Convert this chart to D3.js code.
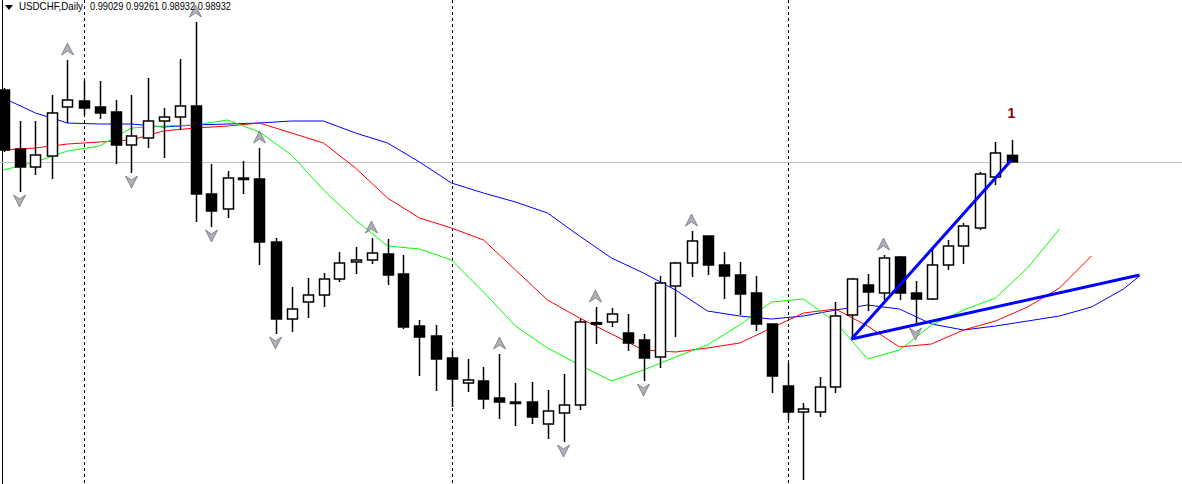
<!DOCTYPE html>
<html><head><meta charset="utf-8">
<script src="https://cdn.jsdelivr.net/npm/d3@7"></script>
<style>body{margin:0;background:#fff;overflow:hidden}svg{display:block}</style>
</head><body><svg id="c" width="1182" height="484"></svg>
<script>
const symbol = "USDCHF,Daily";
const headerValues = ["0.99029","0.99261","0.98932","0.98932"];
// OHLC per daily candle
const opens  = [1.00010,0.99125,0.98855,0.99020,0.99755,0.99845,0.99755,0.99680,0.99185,0.99290,0.99545,0.99605,0.99770,0.98450,0.98225,0.98675,0.98675,0.97730,0.96575,0.96830,0.96935,0.97175,0.97430,0.97460,0.97550,0.97250,0.96470,0.96320,0.95990,0.95615,0.95645,0.95390,0.95330,0.95330,0.95000,0.95165,0.95285,0.96515,0.96530,0.96365,0.96260,0.96005,0.97070,0.97415,0.97820,0.97385,0.97235,0.96965,0.96500,0.95570,0.95180,0.95180,0.95555,0.96635,0.97085,0.96965,0.97505,0.96965,0.96875,0.97385,0.97670,0.97940,0.98705,0.99029];
const highs  = [1.00040,0.99545,0.99545,0.99935,1.00460,1.00145,1.00145,0.99860,0.99935,1.00190,0.99740,1.00475,1.01030,0.98900,0.98795,0.98945,0.99140,0.97790,0.97055,0.97190,0.97265,0.97580,0.97655,0.97790,0.97775,0.97535,0.96560,0.96485,0.96095,0.95975,0.95855,0.96050,0.95615,0.95630,0.95510,0.95750,0.96575,0.96755,0.96740,0.96650,0.96350,0.97220,0.97430,0.97895,0.97820,0.97580,0.97430,0.97220,0.96500,0.95915,0.95315,0.95705,0.96830,0.97190,0.97250,0.97535,0.97520,0.97145,0.97655,0.97760,0.98015,0.98780,0.99230,0.99261];
const lows   = [0.99080,0.98480,0.98735,0.98675,0.99515,0.99635,0.99575,0.98900,0.98765,0.99140,0.98990,0.99410,0.98030,0.97955,0.98090,0.98450,0.97385,0.96350,0.96380,0.96590,0.96755,0.97130,0.97250,0.97400,0.97085,0.96425,0.95720,0.95495,0.95255,0.95480,0.95225,0.95075,0.94970,0.95000,0.94775,0.94730,0.95210,0.96200,0.96455,0.96095,0.95645,0.95840,0.96305,0.97205,0.97235,0.96875,0.96635,0.96395,0.95465,0.95060,0.94160,0.95105,0.95465,0.96275,0.96695,0.96860,0.96860,0.96485,0.96860,0.97310,0.97400,0.97910,0.98585,0.98932];
const closes = [0.99110,0.98855,0.99035,0.99665,0.99860,0.99740,0.99665,0.99185,0.99320,0.99545,0.99605,0.99770,0.98450,0.98195,0.98690,0.98690,0.97730,0.96575,0.96725,0.96935,0.97175,0.97415,0.97460,0.97565,0.97235,0.96455,0.96305,0.95975,0.95675,0.95660,0.95375,0.95330,0.95315,0.95105,0.95195,0.95285,0.96530,0.96520,0.96650,0.96215,0.95990,0.97115,0.97415,0.97745,0.97385,0.97220,0.96950,0.96500,0.95720,0.95180,0.95225,0.95555,0.96620,0.97175,0.96980,0.97490,0.96965,0.96875,0.97385,0.97670,0.97970,0.98750,0.99065,0.98932];
// Alligator lines, sampled at bar indices (forward-shifted beyond last bar)
const jawIdx  = [0,2,4,6,8,10,12,14,16,18,20,22,24,26,28,30,32,34,36,38,40,42,44,46,48,50,52,54,56,58,60,62,64,66,68,70,71];
const jawVal  = [0.99890,0.99665,0.99515,0.99500,0.99500,0.99455,0.99485,0.99500,0.99515,0.99545,0.99545,0.99365,0.99215,0.98930,0.98615,0.98465,0.98330,0.98165,0.97820,0.97490,0.97265,0.97010,0.96695,0.96620,0.96575,0.96620,0.96710,0.96785,0.96725,0.96500,0.96410,0.96470,0.96545,0.96620,0.96755,0.97025,0.97220];
const teethIdx = [0,2,4,6,8,10,12,14,16,18,20,22,24,26,28,30,32,34,36,38,40,42,44,46,48,50,52,54,56,58,60,62,64,66,68];
const teethVal = [0.99110,0.99140,0.99200,0.99230,0.99260,0.99395,0.99440,0.99470,0.99515,0.99365,0.99215,0.98840,0.98390,0.98090,0.97940,0.97760,0.97310,0.96860,0.96590,0.96350,0.96110,0.96080,0.96140,0.96215,0.96440,0.96665,0.96725,0.96470,0.96155,0.96200,0.96410,0.96545,0.96755,0.97040,0.97520];
const lipsIdx = [0,2,4,6,8,10,12,14,16,18,20,22,24,26,28,30,32,34,36,38,40,42,44,46,48,50,52,54,56,58,60,62,64,66];
const lipsVal = [0.98810,0.98930,0.99095,0.99170,0.99440,0.99470,0.99485,0.99560,0.99380,0.99035,0.98510,0.98060,0.97670,0.97625,0.97460,0.96980,0.96470,0.96140,0.95885,0.95645,0.95810,0.96005,0.96185,0.96485,0.96830,0.96875,0.96530,0.95975,0.96110,0.96485,0.96710,0.96890,0.97340,0.97925];
const fractalUp = [4,12,16,23,31,37,43,55];
const fractalDown = [1,8,13,17,35,40,57];
const separators = [5,28,49];
const trendStart = [53,0.96275];
const trendEnds = [[63,0.98960],[71,0.97235]];
const waveLabel = {idx:63, text:"1", price:0.99590};
const bidPrice = 0.98932;

const svg = d3.select("#c");
const W=1182,H=484;
const x = d3.scaleLinear().domain([0,63]).range([3.5,1011.5]);
const y = d3.scaleLinear().domain([0.9410,1.0136]).range([484,0]);
const g = svg.append("g");

g.append("line").attr("x1",2.5).attr("x2",2.5).attr("y1",0).attr("y2",H).attr("stroke","#000");
separators.forEach(s=>g.append("line").attr("x1",Math.round(x(s))+0.5).attr("x2",Math.round(x(s))+0.5)
  .attr("y1",0).attr("y2",H).attr("stroke","#000").attr("stroke-dasharray","3,3"));
g.append("line").attr("x1",0).attr("x2",W).attr("y1",Math.round(y(bidPrice))+0.5).attr("y2",Math.round(y(bidPrice))+0.5)
  .attr("stroke","#c0c0c0");

const line = d3.line().x(d=>x(d[0])).y(d=>y(d[1]));
[[jawIdx,jawVal,"#0000ff"],[teethIdx,teethVal,"#ff0000"],[lipsIdx,lipsVal,"#00ff00"]].forEach(([ix,v,c])=>{
  g.append("path").attr("d",line(ix.map((d,i)=>[d,v[i]]))).attr("fill","none").attr("stroke",c).attr("stroke-width",1);
});

const bars = opens.map((o,i)=>({i,o,h:highs[i],l:lows[i],c:closes[i]}));
const cg = g.append("g");
bars.forEach(b=>{
  const cx=Math.round(x(b.i))+0.5;
  cg.append("line").attr("x1",cx).attr("x2",cx).attr("y1",y(b.h)).attr("y2",y(b.l)).attr("stroke","#000").attr("stroke-width",1.5);
  const top=Math.min(y(b.o),y(b.c)), bot=Math.max(y(b.o),y(b.c));
  const bull=b.c>b.o;
  cg.append("rect").attr("x",cx-5).attr("width",10).attr("y",top).attr("height",Math.max(bot-top,1.5))
    .attr("fill",bull?"#fff":"#000").attr("stroke","#000").attr("stroke-width",1.5);
});

trendEnds.forEach(e=>g.append("line").attr("x1",x(trendStart[0])).attr("y1",y(trendStart[1]))
  .attr("x2",x(e[0])).attr("y2",y(e[1])).attr("stroke","#0000ff").attr("stroke-width",3));

const arrow = "M0,-6 L6,6 L0,2 L-6,6 Z";
fractalUp.forEach(i=>g.append("path").attr("d",arrow).attr("transform",`translate(${x(i)},${y(highs[i])-11})`)
  .attr("fill","#b0b0b8").attr("stroke","#707078").attr("stroke-width",0.8));
fractalDown.forEach(i=>g.append("path").attr("d",arrow).attr("transform",`translate(${x(i)},${y(lows[i])+9}) rotate(180)`)
  .attr("fill","#b0b0b8").attr("stroke","#707078").attr("stroke-width",0.8));

g.append("text").attr("x",x(waveLabel.idx)).attr("y",y(waveLabel.price)).attr("text-anchor","middle")
  .attr("font-family","Liberation Sans, Arial").attr("font-weight","bold").attr("font-size",14).attr("fill","#8b0000").text(waveLabel.text);

g.append("path").attr("d","M5,5 L13,5 L9,10 Z").attr("fill","#000");
g.append("text").attr("x",19).attr("y",10).attr("font-family","Liberation Sans, Arial").attr("font-size",11).attr("fill","#000")
  .attr("textLength",64).attr("lengthAdjust","spacingAndGlyphs").text(symbol);
g.append("text").attr("x",90).attr("y",10).attr("font-family","Liberation Sans, Arial").attr("font-size",11).attr("fill","#000")
  .attr("textLength",141).attr("lengthAdjust","spacingAndGlyphs").text(headerValues.join(" "));
</script></body></html>
